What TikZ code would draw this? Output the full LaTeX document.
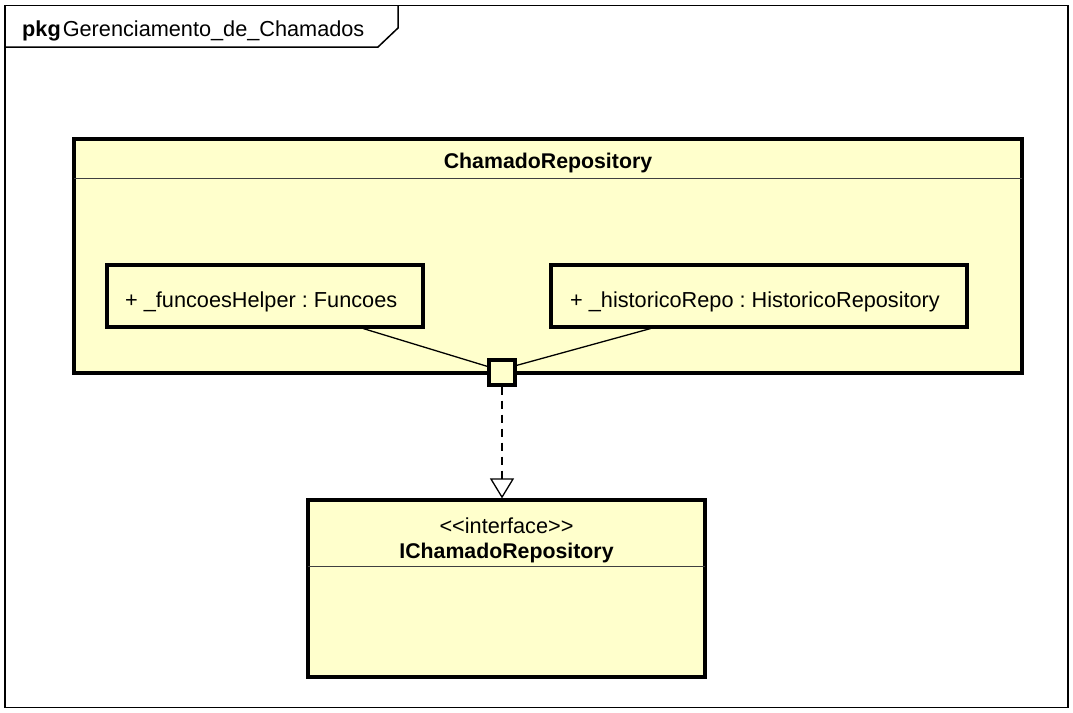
\documentclass[tikz,border=0pt]{standalone}
\usepackage{fontspec}
\setmainfont{Liberation Sans}
\usetikzlibrary{arrows.meta,calc}
\definecolor{umlfill}{RGB}{255,255,204}
\frenchspacing
\tikzset{
  classbox/.style={draw=black, line width=3.2pt, fill=umlfill, rectangle, inner sep=0pt},
  attrbox/.style={draw=black, line width=3.2pt, fill=umlfill, rectangle, inner sep=0pt},
  lbl/.style={font=\fontsize{21.7}{25}\selectfont, inner sep=0pt},
  boldlbl/.style={font=\fontsize{21.3}{25}\selectfont\bfseries, inner sep=0pt},
  sep/.style={line width=1.2pt, draw=black!75},
  conn/.style={line width=1.3pt},
  realize/.style={line width=1.3pt, dash pattern=on 8pt off 6pt, -{Triangle[open, length=20pt, width=24pt, fill=white, line width=1.3pt]}},
}
\begin{document}
\begin{tikzpicture}[x=1pt,y=-1pt]
\useasboundingbox (0,0) rectangle (1073,712);
% package frame
\node[draw=black, line width=1.5pt, minimum width=1063pt, minimum height=702pt, inner sep=0pt] (pkg) at (536.5,356.5) {};
\coordinate (tabA) at (398,5);
\coordinate (tabB) at (398,28);
\coordinate (tabC) at (378,47);
\coordinate (tabD) at (5,47);
\draw[line width=1.5pt] (tabA) -- (tabB) -- (tabC) -- (tabD);
\node[lbl, anchor=base west] (pkgtitle) at (22,36) {\textbf{pkg}\kern2pt Gerenciamento\_de\_Chamados};
% ChamadoRepository
\node[classbox, minimum width=948pt, minimum height=234pt] (repo) at (548,256) {};
\draw[sep] ($(repo.north west)+(1.6,41)$) -- ($(repo.north east)+(-1.6,41)$);
\node[boldlbl] (repotitle) at (548,163) {ChamadoRepository};
% attributes
\node[attrbox, minimum width=316pt, minimum height=62pt] (funcoes) at (265,296) {};
\node[lbl, anchor=west] (funcoestxt) at (125,301.5) {+ \_funcoesHelper : Funcoes};
\node[attrbox, minimum width=416pt, minimum height=62pt] (historico) at (759,296) {};
\node[lbl, anchor=west] (historicotxt) at (570,301.5) {+ \_historicoRepo : HistoricoRepository};
% interface
\node[classbox, minimum width=397pt, minimum height=177pt] (iface) at (506.5,588.5) {};
\draw[sep] ($(iface.north west)+(1.6,68)$) -- ($(iface.north east)+(-1.6,68)$);
\node[lbl] (stereo) at (506.5,525.5) {{<}{<}interface{>}{>}};
\node[boldlbl] (ifacename) at (506.5,553) {IChamadoRepository};
% port
\node[draw=black, line width=3.2pt, fill=umlfill, minimum width=26pt, minimum height=25pt, inner sep=0pt] (port) at (502,372.5) {};
\draw[conn] ($(funcoes.south west)+(258,0)$) -- ($(port.north west)+(0,8)$);
\draw[conn] ($(historico.south west)+(101,0)$) -- ($(port.north east)+(0,7)$);
\draw[realize] (port.south) -- (port.south |- iface.north);
\end{tikzpicture}
\end{document}
